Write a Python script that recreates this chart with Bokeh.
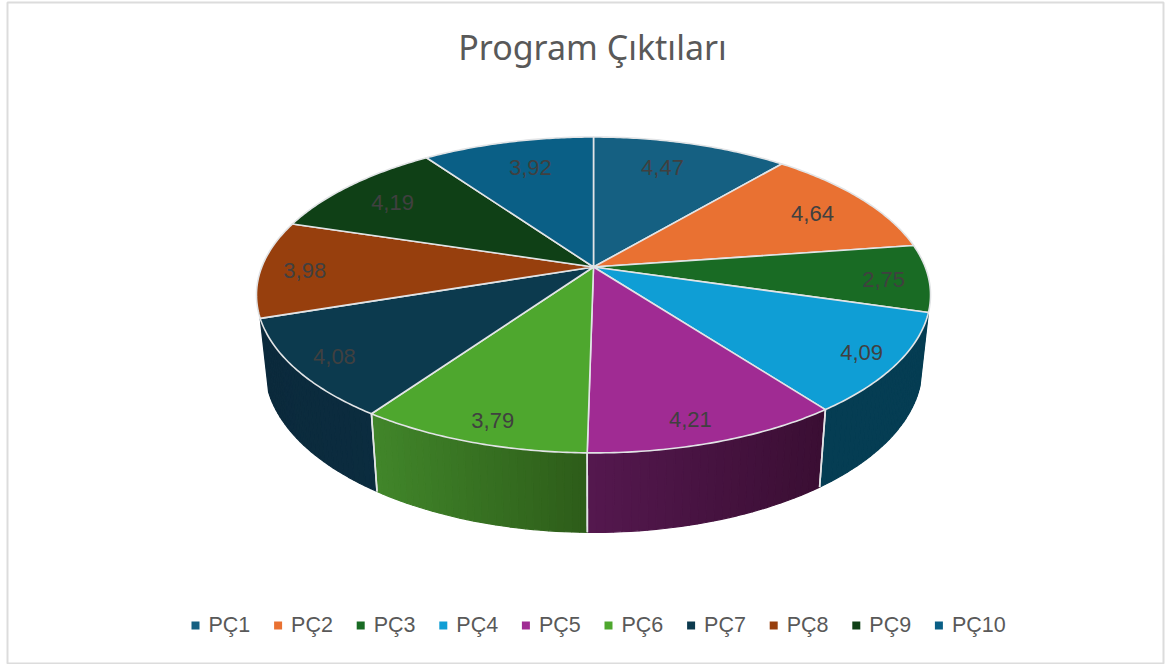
import numpy as np
from bokeh.plotting import figure
from bokeh.core.properties import value
from bokeh.embed import file_html
from bokeh.resources import INLINE

# ---- data ----
categories = ["PÇ1", "PÇ2", "PÇ3", "PÇ4", "PÇ5", "PÇ6", "PÇ7", "PÇ8", "PÇ9", "PÇ10"]
values = [4.47, 4.64, 2.75, 4.09, 4.21, 3.79, 4.08, 3.98, 4.19, 3.92]
chart_title = "Program Çıktıları"

# ---- styles ----
top_colors = ["#156082", "#E97132", "#196B24", "#0F9ED5", "#A02B93",
              "#4EA72E", "#0C3A4E", "#973F0D", "#0F4016", "#0A5F86"]
wall_left = ["#0D3A4E", "#8B4319", "#0F4016", "#053D53", "#54184F",
             "#41862A", "#0B2A3C", "#5A2608", "#0A2A0E", "#073A52"]
wall_right = ["#0D3A4E", "#8B4319", "#0F4016", "#053D53", "#3A0E33",
              "#2D5C19", "#0B2C3F", "#5A2608", "#0A2A0E", "#073A52"]
label_radius = [0.768, 0.798, 0.866, 0.893, 0.885, 0.888, 0.883, 0.867, 0.80, 0.762]
label_turn_deg = [-2.25, 1.0, 1.05, -0.25, 1.7, -1.0, 0.1, -1.05, -1.0, 1.2]
EDGE = "#E2E4E6"
TEXT = "#595959"
LABEL = "#404040"
TITLE_FONT = "Noto Sans"
FONT = "Liberation Sans"

# perspective of the pie in page pixels
CX, CY = 593.0, 266.5
A, B, K = 331.7, 153.0, 0.177
WALL_SX, WALL_SY, WALL_CY = 0.975, 1.045, 337.6


def project(r, theta):
    u, v = r * np.sin(theta), r * np.cos(theta)
    w = 1 + K * v
    return CX + A * u / w, CY - B * v / w


def lower(x, y):
    return CX + WALL_SX * (x - CX), WALL_CY + WALL_SY * (y - CY)


def hex2rgb(h):
    return np.array([int(h[i:i + 2], 16) for i in (1, 3, 5)], dtype=float)


def mix(c1, c2, t):
    c = hex2rgb(c1) * (1 - t) + hex2rgb(c2) * t
    return "#%02x%02x%02x" % tuple(int(round(i)) for i in c)


fractions = np.array(values) / np.sum(values)
edges = np.concatenate([[0.0], np.cumsum(fractions)]) * 2 * np.pi
mids = (edges[:-1] + edges[1:]) / 2

p = figure(width=1169, height=664, x_range=(0, 1169), y_range=(664, 0),
           output_backend="svg", toolbar_location=None, min_border=0,
           margin=0, background_fill_color="#FFFFFF",
           border_fill_color="#FFFFFF", outline_line_color=None)
p.axis.visible = False
p.grid.visible = False

# frame of the chart area
p.quad(left=[7], right=[1163], top=[2], bottom=[663], fill_color=None,
       line_color="#DCDCDC", line_width=2)

# walls that face the viewer
front = [i for i in range(len(values)) if np.cos(mids[i]) < -0.2]
front.sort(key=lambda i: -np.cos(mids[i]))
wall_x, wall_y, wall_c = [], [], []
sep_x, sep_y = [], []
for i in front:
    n = 30
    th = np.linspace(edges[i], edges[i + 1], n + 1)
    tx, ty = project(1.0, th)
    bx, by = lower(tx, ty)
    lo, hi = min(tx.min(), bx.min()), max(tx.max(), bx.max())
    for j in range(n):
        wall_x.append([tx[j], tx[j + 1], bx[j + 1], bx[j]])
        wall_y.append([ty[j], ty[j + 1], by[j + 1], by[j]])
        t = ((tx[j] + tx[j + 1]) / 2 - lo) / (hi - lo)
        wall_c.append(mix(wall_left[i], wall_right[i], t))
    for e in (edges[i], edges[i + 1]):
        if np.cos(e) < -0.45:
            x0, y0 = project(1.0, e)
            x1, y1 = lower(x0, y0)
            sep_x.append([x0, x1])
            sep_y.append([y0, y1])

p.patches(xs=wall_x, ys=wall_y, fill_color=wall_c, line_color=wall_c, line_width=1.2)
p.multi_line(xs=sep_x, ys=sep_y, line_color=EDGE, line_width=1.6)

# top of the pie
top_x, top_y = [], []
for i in range(len(values)):
    th = np.linspace(edges[i], edges[i + 1], 60)
    tx, ty = project(1.0, th)
    top_x.append(np.concatenate([[CX], tx]).tolist())
    top_y.append(np.concatenate([[CY], ty]).tolist())
p.patches(xs=top_x, ys=top_y, fill_color=top_colors, line_color=EDGE, line_width=1.6,
          line_join="round")

# data labels
lx, ly = project(np.array(label_radius), mids + np.radians(label_turn_deg))
p.text(x=lx, y=ly, text=[("%.2f" % v).replace(".", ",") for v in values],
       text_align="center", text_baseline="middle", text_color=LABEL,
       text_font=value(FONT), text_font_size="22px")

# title
p.text(x=[592], y=[46], text=[chart_title], text_align="center", text_baseline="middle",
       text_color=TEXT, text_font=value(TITLE_FONT), text_font_size="34px")

# legend
slot = 82.6
mx = 195 + slot * np.arange(len(categories))
p.rect(x=mx, y=[625] * len(categories), width=8, height=8, fill_color=top_colors, line_color=None)
p.text(x=mx + 13, y=[624] * len(categories), text=categories, text_align="left",
       text_baseline="middle", text_color=TEXT, text_font=value(FONT), text_font_size="21.5px")

open("out.html", "w").write(file_html(p, INLINE))
